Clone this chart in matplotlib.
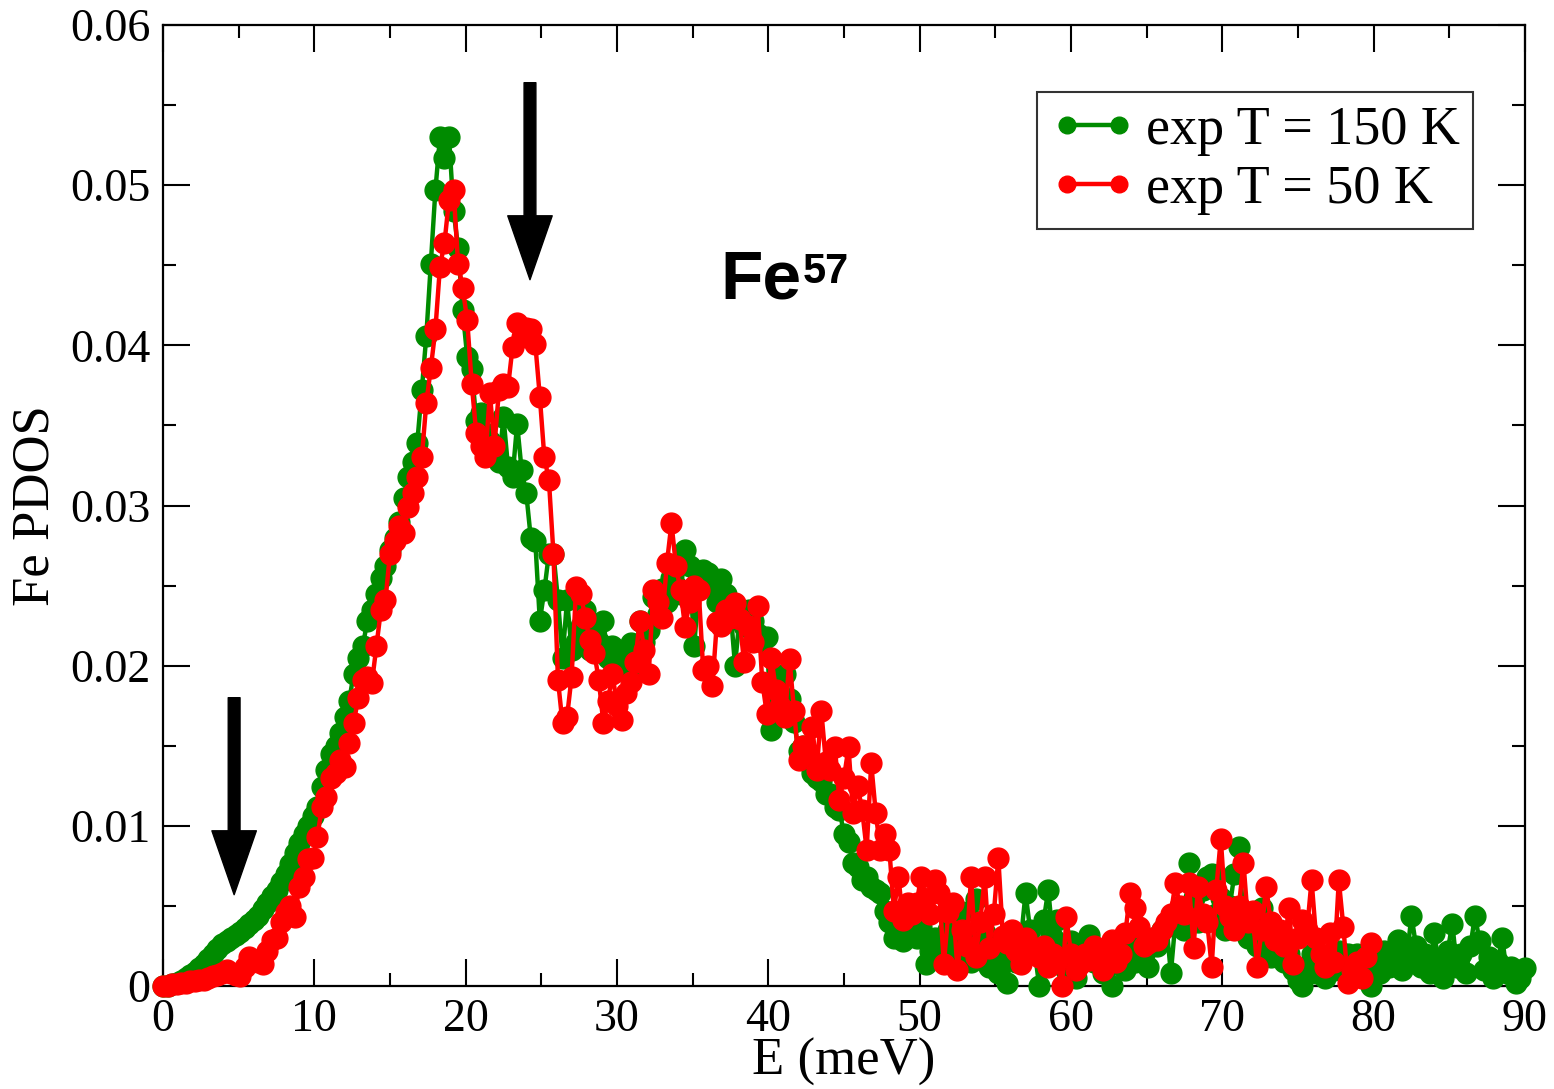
import numpy as np
import matplotlib
matplotlib.use("Agg")
import matplotlib.pyplot as plt
from matplotlib.ticker import MultipleLocator, FuncFormatter

# Energy grid step (meV) for both spectra
E_STEP = 0.3

# Fe partial phonon density of states, T = 150 K (0 ... 90 meV)
pdos_150K = [
    0.0000, 0.0000, 0.0001, 0.0002, 0.0003, 0.0005, 0.0007, 0.0009, 0.0011, 0.0014,
    0.0017, 0.0020, 0.0023, 0.0026, 0.0028, 0.0030, 0.0032, 0.0034, 0.0036, 0.0039,
    0.0041, 0.0044, 0.0048, 0.0052, 0.0056, 0.0060, 0.0065, 0.0070, 0.0076, 0.0083,
    0.0089, 0.0095, 0.0100, 0.0106, 0.0112, 0.0124, 0.0135, 0.0145, 0.0150, 0.0158,
    0.0168, 0.0178, 0.0195, 0.0205, 0.0212, 0.0228, 0.0235, 0.0245, 0.0255, 0.0262,
    0.0272, 0.0280, 0.0290, 0.0305, 0.0318, 0.0327, 0.0339, 0.0372, 0.0406, 0.0451,
    0.0497, 0.0530, 0.0517, 0.0530, 0.0484, 0.0461, 0.0422, 0.0393, 0.0385, 0.0353,
    0.0358, 0.0345, 0.0340, 0.0335, 0.0327, 0.0355, 0.0324, 0.0318, 0.0351, 0.0322,
    0.0308, 0.0280, 0.0278, 0.0228, 0.0247, 0.0270, 0.0270, 0.0241, 0.0205, 0.0241,
    0.0210, 0.0215, 0.0225, 0.0235, 0.0210, 0.0225, 0.0215, 0.0228, 0.0205, 0.0212,
    0.0198, 0.0205, 0.0210, 0.0214, 0.0200, 0.0228, 0.0215, 0.0222, 0.0243, 0.0232,
    0.0248, 0.0240, 0.0255, 0.0250, 0.0245, 0.0272, 0.0262, 0.0212, 0.0248, 0.0260,
    0.0258, 0.0250, 0.0240, 0.0254, 0.0245, 0.0235, 0.0200, 0.0230, 0.0225, 0.0235,
    0.0228, 0.0220, 0.0215, 0.0218, 0.0160, 0.0185, 0.0193, 0.0195, 0.0179, 0.0165,
    0.0147, 0.0150, 0.0140, 0.0133, 0.0130, 0.0128, 0.0120, 0.0120, 0.0112, 0.0110,
    0.0095, 0.0090, 0.0077, 0.0074, 0.0066, 0.0068, 0.0062, 0.0060, 0.0058, 0.0047,
    0.0040, 0.0030, 0.0036, 0.0028, 0.0031, 0.0033, 0.0030, 0.0037, 0.0014, 0.0022,
    0.0030, 0.0018, 0.0025, 0.0035, 0.0020, 0.0030, 0.0046, 0.0028, 0.0015, 0.0054,
    0.0020, 0.0033, 0.0012, 0.0025, 0.0008, 0.0018, 0.0002, 0.0028, 0.0015, 0.0030,
    0.0058, 0.0035, 0.0022, 0.0000, 0.0041, 0.0060, 0.0030, 0.0041, 0.0020, 0.0010,
    0.0028, 0.0005, 0.0018, 0.0025, 0.0032, 0.0015, 0.0020, 0.0008, 0.0022, 0.0000,
    0.0018, 0.0025, 0.0010, 0.0030, 0.0015, 0.0025, 0.0020, 0.0012, 0.0030, 0.0025,
    0.0035, 0.0039, 0.0008, 0.0040, 0.0045, 0.0035, 0.0077, 0.0055, 0.0040, 0.0060,
    0.0068, 0.0070, 0.0045, 0.0055, 0.0035, 0.0050, 0.0070, 0.0087, 0.0040, 0.0030,
    0.0045, 0.0025, 0.0049, 0.0035, 0.0018, 0.0030, 0.0022, 0.0015, 0.0020, 0.0010,
    0.0004, 0.0000, 0.0012, 0.0020, 0.0008, 0.0015, 0.0005, 0.0018, 0.0010, 0.0022,
    0.0012, 0.0020, 0.0008, 0.0020, 0.0010, 0.0005, 0.0000, 0.0015, 0.0008, 0.0022,
    0.0012, 0.0020, 0.0029, 0.0010, 0.0018, 0.0044, 0.0025, 0.0012, 0.0020, 0.0008,
    0.0033, 0.0015, 0.0005, 0.0022, 0.0039, 0.0012, 0.0020, 0.0008, 0.0025, 0.0044,
    0.0028, 0.0010, 0.0018, 0.0005, 0.0015, 0.0030, 0.0008, 0.0012, 0.0002, 0.0005,
    0.0011,
]

# Fe partial phonon density of states, T = 50 K (0 ... 79.8 meV)
pdos_50K = [
    0.0000, 0.0000, 0.0001, 0.0001, 0.0002, 0.0002, 0.0003, 0.0003, 0.0004, 0.0004,
    0.0005, 0.0006, 0.0007, 0.0008, 0.0010, 0.0008, 0.0007, 0.0006, 0.0012, 0.0018,
    0.0016, 0.0015, 0.0014, 0.0022, 0.0029, 0.0030, 0.0040, 0.0046, 0.0050, 0.0043,
    0.0062, 0.0068, 0.0079, 0.0080, 0.0093, 0.0112, 0.0118, 0.0130, 0.0133, 0.0141,
    0.0137, 0.0152, 0.0164, 0.0180, 0.0191, 0.0193, 0.0189, 0.0212, 0.0235, 0.0241,
    0.0270, 0.0278, 0.0287, 0.0283, 0.0299, 0.0308, 0.0318, 0.0330, 0.0364, 0.0386,
    0.0410, 0.0449, 0.0464, 0.0491, 0.0497, 0.0451, 0.0436, 0.0416, 0.0376, 0.0345,
    0.0337, 0.0330, 0.0370, 0.0337, 0.0372, 0.0376, 0.0374, 0.0399, 0.0414, 0.0405,
    0.0411, 0.0410, 0.0401, 0.0368, 0.0330, 0.0316, 0.0270, 0.0191, 0.0164, 0.0168,
    0.0193, 0.0249, 0.0245, 0.0230, 0.0216, 0.0208, 0.0191, 0.0164, 0.0178, 0.0195,
    0.0175, 0.0166, 0.0183, 0.0190, 0.0202, 0.0228, 0.0210, 0.0195, 0.0247, 0.0240,
    0.0230, 0.0264, 0.0289, 0.0262, 0.0247, 0.0224, 0.0240, 0.0250, 0.0247, 0.0197,
    0.0200, 0.0187, 0.0227, 0.0225, 0.0235, 0.0230, 0.0239, 0.0229, 0.0202, 0.0225,
    0.0215, 0.0237, 0.0190, 0.0170, 0.0205, 0.0185, 0.0175, 0.0168, 0.0204, 0.0172,
    0.0141, 0.0150, 0.0145, 0.0162, 0.0135, 0.0172, 0.0140, 0.0135, 0.0149, 0.0116,
    0.0130, 0.0149, 0.0108, 0.0125, 0.0110, 0.0085, 0.0139, 0.0108, 0.0085, 0.0095,
    0.0085, 0.0047, 0.0068, 0.0041, 0.0052, 0.0045, 0.0052, 0.0068, 0.0055, 0.0045,
    0.0066, 0.0058, 0.0014, 0.0046, 0.0052, 0.0010, 0.0035, 0.0025, 0.0068, 0.0018,
    0.0040, 0.0068, 0.0024, 0.0045, 0.0080, 0.0031, 0.0027, 0.0035, 0.0022, 0.0014,
    0.0030, 0.0024, 0.0024, 0.0018, 0.0025, 0.0012, 0.0020, 0.0015, 0.0000, 0.0043,
    0.0020, 0.0010, 0.0014, 0.0020, 0.0016, 0.0025, 0.0018, 0.0010, 0.0022, 0.0029,
    0.0015, 0.0020, 0.0033, 0.0058, 0.0049, 0.0037, 0.0025, 0.0027, 0.0030, 0.0029,
    0.0035, 0.0040, 0.0045, 0.0064, 0.0050, 0.0045, 0.0064, 0.0024, 0.0062, 0.0045,
    0.0040, 0.0012, 0.0060, 0.0092, 0.0050, 0.0043, 0.0035, 0.0050, 0.0077, 0.0040,
    0.0047, 0.0012, 0.0035, 0.0062, 0.0040, 0.0029, 0.0035, 0.0025, 0.0049, 0.0014,
    0.0030, 0.0041, 0.0035, 0.0066, 0.0030, 0.0020, 0.0012, 0.0033, 0.0015, 0.0066,
    0.0037, 0.0002, 0.0010, 0.0015, 0.0005, 0.0018, 0.0027,
]

series_labels = ["exp T = 150 K", "exp T = 50 K"]
series_colors = ["#008b00", "#ff0000"]

x_ticks = [0, 10, 20, 30, 40, 50, 60, 70, 80, 90]
y_ticks = [0, 0.01, 0.02, 0.03, 0.04, 0.05, 0.06]

# arrows marking spectral features: (energy, tail height, tip height)
arrow_marks = [(24.25, 0.0564, 0.0441), (4.7, 0.0180, 0.0057)]

E_150 = np.round(np.arange(len(pdos_150K)) * E_STEP, 2)
E_50 = np.round(np.arange(len(pdos_50K)) * E_STEP, 2)

serif = ["Liberation Serif", "DejaVu Serif"]
plt.rcParams["font.family"] = serif

fig = plt.figure(figsize=(15.54, 10.89), dpi=100)
ax = fig.add_axes([0.1049, 0.0946, 0.8764, 0.8824])

for E, y, lab, col, z in [(E_150, pdos_150K, series_labels[0], series_colors[0], 3),
                         (E_50, pdos_50K, series_labels[1], series_colors[1], 4)]:
    ax.plot(E, y, color=col, lw=3.2, marker="o", ms=15, mec=col, mfc=col,
            label=lab, zorder=z, clip_on=False)

ax.set_xlim(0, 90)
ax.set_ylim(0, 0.06)
ax.xaxis.set_minor_locator(MultipleLocator(5))
ax.yaxis.set_minor_locator(MultipleLocator(0.005))
ax.set_xticks(x_ticks)
ax.set_yticks(y_ticks)
fmt = FuncFormatter(lambda v, p: "%g" % round(v, 4))
ax.xaxis.set_major_formatter(fmt)
ax.yaxis.set_major_formatter(fmt)

ax.tick_params(which="both", direction="in", top=True, right=True, width=1.5,
               labelsize=33, colors="black")
ax.tick_params(which="major", length=19.5, pad=9)
ax.tick_params(which="minor", length=9.5)
for s in ax.spines.values():
    s.set_linewidth(1.6)

ax.set_xlabel("E (meV)", fontsize=38, labelpad=-2)
ax.set_ylabel("Fe PDOS", fontsize=38, labelpad=8)

for xa, y0, y1 in arrow_marks:
    ax.annotate("", xy=(xa, y1), xytext=(xa, y0),
                arrowprops=dict(facecolor="black", edgecolor="black", width=8.5,
                                headwidth=32, headlength=46, shrink=0.0), zorder=6)

sans = ["Liberation Sans", "DejaVu Sans"]
fe = ax.text(36.85, 0.0429, "Fe", fontsize=50, fontweight="bold",
             family=sans, ha="left", va="baseline", zorder=6)
ax.annotate("57", xy=(1.0, 1.0), xycoords=fe, xytext=(1, -2), textcoords="offset points",
            fontsize=30, fontweight="bold", family=sans,
            ha="left", va="top", zorder=6)

leg = ax.legend(loc="upper right", bbox_to_anchor=(0.962, 0.930), fontsize=39,
                numpoints=2, handlelength=1.55, handletextpad=0.2, borderpad=0.25,
                labelspacing=0.15, borderaxespad=0.0, fancybox=False, frameon=True,
                markerscale=0.8)
leg.get_frame().set_edgecolor("black")
leg.get_frame().set_linewidth(1.5)
leg.set_zorder(10)

fig.savefig("out.png", dpi=100)
